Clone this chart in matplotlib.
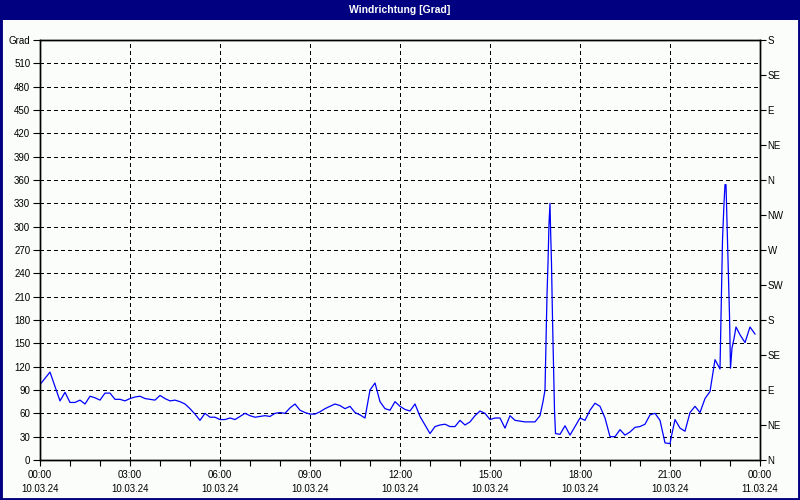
import matplotlib
matplotlib.use("Agg")
import matplotlib.pyplot as plt
import matplotlib.patches as patches

# wind direction readings: minutes since 10.03.24 00:00 and degrees
minutes = [0, 20, 40, 50, 60, 70, 80, 90, 100, 110, 120, 130, 140, 150, 160, 170,
           180, 190, 200, 210, 220, 230, 240, 250, 260, 270, 280, 290, 300, 310,
           320, 330, 340, 350, 360, 370, 380, 390, 400, 410, 420, 430, 440, 450,
           460, 470, 480, 490, 500, 510, 520, 530, 540, 550, 560, 570, 580, 590,
           600, 610, 620, 630, 640, 650, 660, 670, 680, 690, 700, 710, 720, 730,
           740, 750, 760, 770, 780, 790, 800, 810, 820, 830, 840, 850, 860, 870,
           880, 890, 900, 910, 920, 930, 940, 950, 960, 970, 980, 990, 1000, 1006,
           1010, 1012, 1014, 1016, 1018, 1020, 1021, 1023, 1025, 1027, 1029, 1031,
           1040, 1050, 1060, 1070, 1080, 1090, 1100, 1110, 1120, 1130, 1140, 1150,
           1160, 1170, 1180, 1190, 1200, 1210, 1220, 1230, 1240, 1250, 1260, 1263,
           1270, 1280, 1290, 1300, 1310, 1320, 1330, 1340, 1350, 1360, 1362, 1365,
           1368, 1370, 1372, 1373, 1375, 1377, 1379, 1381, 1384, 1388, 1392, 1400,
           1410, 1420, 1430]
degrees = [97, 113, 76, 87, 74, 74, 77, 72, 82, 80, 77, 86, 86, 78, 78, 76,
           79, 81, 82, 79, 78, 77, 83, 79, 76, 77, 75, 72, 66, 59,
           51, 60, 55, 55, 52, 52, 54, 52, 56, 60, 57, 55, 56, 57,
           56, 60, 61, 60, 67, 72, 64, 61, 59, 59, 62, 66, 69, 72,
           70, 66, 69, 61, 58, 54, 90, 99, 75, 66, 64, 75, 69, 65,
           63, 72, 56, 45, 34, 43, 45, 46, 43, 43, 51, 45, 49, 57,
           63, 60, 52, 54, 54, 41, 57, 51, 50, 49, 49, 49, 57, 75,
           90, 152, 212, 253, 304, 330, 300, 253, 182, 122, 64, 34,
           33, 44, 32, 43, 54, 51, 64, 73, 69, 54, 30, 30,
           39, 32, 36, 42, 43, 46, 58, 60, 51, 22, 21, 31,
           52, 41, 37, 61, 69, 61, 79, 88, 129, 117, 186, 283,
           330, 354, 354, 330, 283, 236, 186, 118, 144, 156, 171, 161,
           151, 171, 162]

grad_ticks = list(range(0, 541, 30))
grad_labels = [str(v) for v in range(0, 511, 30)] + ["Grad"]
compass_ticks = list(range(0, 541, 45))
compass_labels = ["N", "NE", "E", "SE", "S", "SW", "W", "NW", "N", "NE", "E", "SE", "S"]
time_ticks = list(range(0, 1441, 180))
time_labels = ["00:00\n10.03.24", "03:00\n10.03.24", "06:00\n10.03.24", "09:00\n10.03.24",
               "12:00\n10.03.24", "15:00\n10.03.24", "18:00\n10.03.24", "21:00\n10.03.24",
               "00:00\n11.03.24"]

navy = "#000080"
plt.rcParams["font.family"] = ["Liberation Sans", "DejaVu Sans"]
plt.rcParams["font.size"] = 7

fig = plt.figure(figsize=(8, 5), dpi=100, facecolor="#fbfdfb")

# title bar and frame
fig.patches.append(patches.Rectangle((0, 0.96), 1, 0.04, transform=fig.transFigure,
                                     facecolor=navy, edgecolor="none", zorder=0))
fig.patches.append(patches.Rectangle((0, 0), 1, 1, transform=fig.transFigure,
                                     fill=False, edgecolor=navy, linewidth=3.5, zorder=0))
fig.text(0.5, 0.98, "Windrichtung [Grad]", color="white", fontweight="bold",
         fontsize=7.5, ha="center", va="center")

ax = fig.add_axes([0.05, 0.08, 0.9, 0.84])
ax.set_facecolor("#fbfdfb")
ax.plot(minutes, degrees, color="#0000ff", linewidth=0.9, zorder=3)

ax.set_xlim(0, 1440)
ax.set_ylim(0, 540)
ax.set_xticks(time_ticks)
ax.set_xticklabels(time_labels, linespacing=1.55)
ax.set_xticks(range(0, 1441, 60), minor=True)
ax.set_yticks(grad_ticks)
ax.set_yticklabels(grad_labels)
ax.yaxis.get_major_ticks()[-1].tick1line.set_visible(False)

ax.tick_params(axis="x", which="both", length=4, width=0.8, pad=3, direction="out")
ax.tick_params(axis="y", length=5, width=0.8, pad=2, direction="out")

for s in ax.spines.values():
    s.set_linewidth(1.0)
    s.set_color("black")

# dashed grid, inside only
for t in range(180, 1440, 180):
    ax.axvline(t, color="black", linewidth=0.72, linestyle=(0, (3, 3)), antialiased=False, zorder=1)
for g in range(30, 540, 30):
    ax.axhline(g, color="black", linewidth=0.72, linestyle=(0, (3, 3)), antialiased=False, zorder=1)

ax2 = ax.twinx()
ax2.set_ylim(0, 540)
ax2.set_yticks(compass_ticks)
ax2.set_yticklabels(compass_labels)
ax2.tick_params(axis="y", length=4, width=0.8, pad=1.5, direction="out")
for s in ax2.spines.values():
    s.set_linewidth(1.0)

fig.savefig("out.png", dpi=100, facecolor=fig.get_facecolor())
